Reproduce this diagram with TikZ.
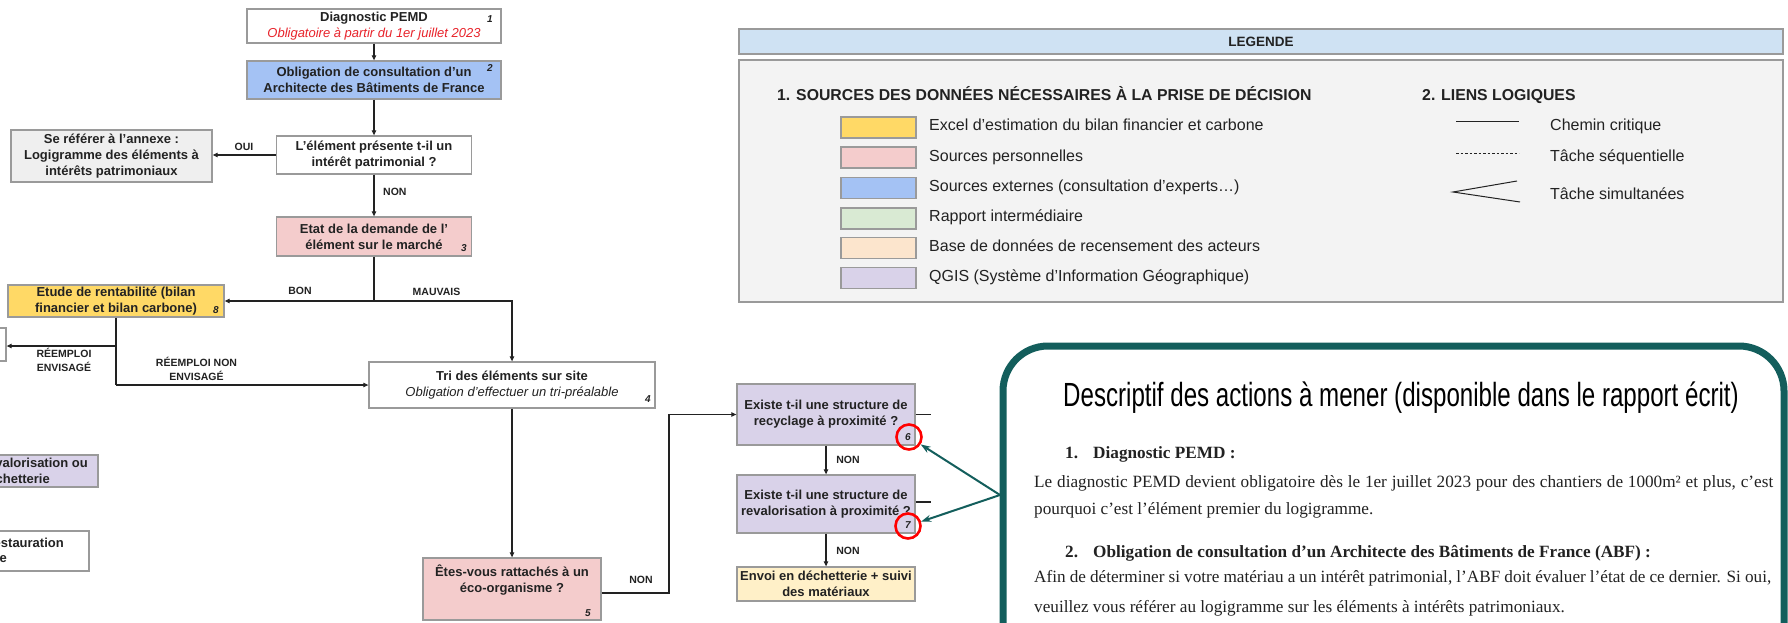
\documentclass[tikz,border=0pt]{standalone}
\usepackage{fontspec}
\setmainfont{Liberation Sans}
\newfontfamily\serf{Liberation Serif}
\newfontfamily\condf[FakeStretch=0.72]{Liberation Sans}
\usetikzlibrary{arrows.meta}
\definecolor{cBlue}{HTML}{A4C2F4}
\definecolor{cPink}{HTML}{F4CCCC}
\definecolor{cYellow}{HTML}{FFD966}
\definecolor{cPurple}{HTML}{D9D2E9}
\definecolor{cGreen}{HTML}{D9EAD3}
\definecolor{cPeach}{HTML}{FCE5CD}
\definecolor{cCream}{HTML}{FFF0C8}
\definecolor{cGrayBox}{HTML}{EFEFEF}
\definecolor{cLegHead}{HTML}{CFE2F3}
\definecolor{cLegBody}{HTML}{F3F3F3}
\definecolor{cBorder}{HTML}{9A9A9A}
\definecolor{cTeal}{HTML}{135E5C}
\definecolor{cRed}{HTML}{E8232B}
\definecolor{cInk}{HTML}{222222}
\tikzset{
  fbox/.style={draw=cBorder, line width=1.3pt, align=center, inner sep=0pt,
    font=\fontsize{13}{16}\selectfont\bfseries, text=cInk},
  ftext/.style={font=\fontsize{13}{16}\selectfont\bfseries, text=cInk, inner sep=0pt},
  num/.style={font=\fontsize{10}{12}\selectfont\bfseries\itshape, inner sep=0pt, text=cInk},
  lab/.style={font=\fontsize{10.5}{14}\selectfont\bfseries, inner sep=0pt, align=center, text=cInk},
  arr/.style={-{Triangle[length=5pt,width=4.5pt]}, line width=1.1pt, draw=cInk},
  ln/.style={line width=1.1pt, draw=cInk},
  swatch/.style={draw=cBorder, line width=1.2pt, minimum width=75pt, minimum height=21pt, inner sep=0pt},
  legtxt/.style={font=\fontsize{16}{19}\selectfont, anchor=base west, inner sep=0pt, text=cInk},
  leghead/.style={font=\fontsize{15.8}{19}\selectfont\bfseries, anchor=base west, inner sep=0pt, text=cInk},
  redring/.style={draw=red, line width=2.6pt, circle, minimum size=25pt, inner sep=0pt},
  tealarr/.style={-{Stealth[length=10pt,width=7pt]}, line width=2pt, draw=cTeal},
  bodytxt/.style={font=\serf\fontsize{17.2}{20}\selectfont, anchor=base west, inner sep=0pt, text=cInk},
  bodyhead/.style={font=\serf\bfseries\fontsize{17.2}{20}\selectfont, anchor=base west, inner sep=0pt, text=cInk},
}
\begin{document}
\begin{tikzpicture}[x=1pt,y=-1pt]
\useasboundingbox (0,0) rectangle (1788,623);
\clip (0,0) rectangle (1788,623);
\fill[white] (0,0) rectangle (1788,623);

% ---------------- flowchart boxes
\node[fbox, minimum width=254pt, minimum height=34pt] (b1) at (374,26)
  {Diagnostic PEMD\\{\mdseries\itshape\color{cRed}Obligatoire à partir du 1er juillet 2023}};
\node[fbox, fill=cBlue, minimum width=254pt, minimum height=38pt] (b2) at (374,80)
  {Obligation de consultation d’un\\Architecte des Bâtiments de France};
\node[fbox, minimum width=195pt, minimum height=38pt] (bq) at (374,155)
  {L’élément présente t-il un\\intérêt patrimonial ?};
\node[fbox, fill=cGrayBox, minimum width=201pt, minimum height=52pt] (ann) at (111.5,156)
  {Se référer à l’annexe :\\Logigramme des éléments à\\intérêts patrimoniaux};
\node[fbox, fill=cPink, minimum width=195pt, minimum height=39pt] (b3) at (374,236.5)
  {Etat de la demande de l’\\élément sur le marché};
\node[fbox, fill=cYellow, minimum width=216pt, minimum height=32pt] (b8) at (116,301)
  {Etude de rentabilité (bilan\\financier et bilan carbone)};
\node[fbox, minimum width=56pt, minimum height=33pt] (bR) at (-22,344.5) {};
\node[fbox, minimum width=286pt, minimum height=46pt] (b4) at (512,385)
  {Tri des éléments sur site\\{\mdseries\itshape Obligation d’effectuer un tri-préalable}};
\node[fbox, fill=cPink, minimum width=178pt, minimum height=62pt] (b5) at (512,589)
  {Êtes-vous rattachés à un\\éco-organisme ?\\[4pt]};
\node[fbox, fill=cPurple, minimum width=178pt, minimum height=61pt] (b6) at (826,414.5)
  {Existe t-il une structure de\\recyclage à proximité ?};
\node[fbox, fill=cPurple, minimum width=178pt, minimum height=58pt] (b7) at (826,504)
  {Existe t-il une structure de\\revalorisation à proximité ?};
\node[fbox, fill=cCream, minimum width=178pt, minimum height=34pt] (b9) at (826,584)
  {Envoi en déchetterie + suivi\\des matériaux};
\node[fbox, fill=cPurple, minimum width=198pt, minimum height=32pt] (bP) at (-1,471) {};
\node[ftext, anchor=east] (bPa) at (88,463) {valorisation ou};
\node[ftext, anchor=east] (bPb) at (50,479) {chetterie};
\node[fbox, minimum width=189pt, minimum height=40pt] (bW) at (-5.5,551) {};
\node[ftext, anchor=east] (bWa) at (64,543) {estauration};
\node[ftext, anchor=east] (bWb) at (7,559) {e};

% numbers
\node[num] (n1) at (490,19) {1};
\node[num] (n2) at (490,68) {2};
\node[num] (n3) at (464,248) {3};
\node[num] (n8) at (216,310) {8};
\node[num] (n4) at (648,399) {4};
\node[num] (n5) at (588,613) {5};
\node[num] (n6) at (908,437) {6};
\node[num] (n7) at (908,525) {7};
\node[redring] (r6) at (909,437) {};
\node[redring] (r7) at (908,526) {};

% ---------------- connectors
\draw[arr] (b1) -- (b2);
\draw[arr] (b2) -- (bq);
\draw[arr] (bq.west) -- (bq.west -| ann.east);
\node[lab] (oui) at (244,147) {OUI};
\draw[arr] (bq) -- (b3);
\node[lab, anchor=west] (non1) at (383,192) {NON};
\coordinate (j3) at (374,301);
\draw[ln] (b3.south) -- (j3);
\draw[arr] (j3) -- (j3 -| b8.east);
\draw[arr] (j3) -| (b4.north);
\node[lab] (bon) at (300,291) {BON};
\node[lab] (mauv) at (436.5,292) {MAUVAIS};
\coordinate (j8a) at (116,346);
\coordinate (j8b) at (116,385);
\draw[ln] (b8.south) -- (j8b);
\draw[arr] (j8b) -- (b4.west);
\draw[arr] (j8a) -- (j8a -| bR.east);
\node[lab] (reen) at (64,360) {RÉEMPLOI\\ENVISAGÉ};
\node[lab] (renon) at (196.5,369) {RÉEMPLOI NON\\ENVISAGÉ};
\draw[arr] (b4) -- (b5);
\coordinate (c5) at (669,593);
\draw[arr] (b5.east |- c5) -- (c5) |- (b6.west);
\node[lab] (non2) at (641,580) {NON};
\draw[arr] (b6) -- (b7);
\node[lab] (non3) at (848,460) {NON};
\draw[arr] (b7) -- (b9);
\node[lab] (non4) at (848,551) {NON};
\draw[ln] (b6.east) -- ++(15,0);
\draw[ln] (b7.east) ++(0,-2) -- ++(15,0);

% ---------------- legend
\node[draw=cBorder, fill=cLegHead, line width=1.2pt, minimum width=1044pt, minimum height=25pt, inner sep=0pt] (lh) at (1261,41.5) {};
\node[font=\fontsize{13.5}{16}\selectfont\bfseries, anchor=base, inner sep=0pt, text=cInk] (lht) at (1261,47) {LEGENDE};
\node[draw=cBorder, fill=cLegBody, line width=1.2pt, minimum width=1044pt, minimum height=242pt, inner sep=0pt] (lb) at (1261,181) {};
\node[leghead] (lg1) at (777,100.5) {1. SOURCES DES DONNÉES NÉCESSAIRES À LA PRISE DE DÉCISION};
\node[leghead] (lg2) at (1422,100.5) {2. LIENS LOGIQUES};
\node[swatch, fill=cYellow] (s1) at (878.5,127.5) {};
\node[swatch, fill=cPink] (s2) at (878.5,157.5) {};
\node[swatch, fill=cBlue] (s3) at (878.5,188) {};
\node[swatch, fill=cGreen] (s4) at (878.5,218.5) {};
\node[swatch, fill=cPeach] (s5) at (878.5,248) {};
\node[swatch, fill=cPurple] (s6) at (878.5,278) {};
\node[legtxt] (l1) at (929,131) {Excel d’estimation du bilan financier et carbone};
\node[legtxt] (l2) at (929,161) {Sources personnelles};
\node[legtxt] (l3) at (929,191) {Sources externes (consultation d’experts…)};
\node[legtxt] (l4) at (929,221.5) {Rapport intermédiaire};
\node[legtxt] (l5) at (929,251.5) {Base de données de recensement des acteurs};
\node[legtxt] (l6) at (929,281.5) {QGIS (Système d’Information Géographique)};
\coordinate (k1a) at (1456,122); \coordinate (k1b) at (1519,122);
\draw[line width=1pt, draw=cInk] (k1a) -- (k1b);
\coordinate (k2a) at (1456,153); \coordinate (k2b) at (1519,153);
\draw[line width=0.8pt, draw=cInk, dash pattern=on 2.5pt off 2pt] (k2a) -- (k2b);
\coordinate (k3a) at (1517,181); \coordinate (k3b) at (1453,192); \coordinate (k3c) at (1520,202);
\draw[line width=1pt, draw=cInk] (k3a) -- (k3b) -- (k3c);
\node[legtxt] (m1) at (1550,131) {Chemin critique};
\node[legtxt] (m2) at (1550,161) {Tâche séquentielle};
\node[legtxt] (m3) at (1550,199) {Tâche simultanées};

% ---------------- description callout
\draw[cTeal, line width=7pt, fill=white, rounded corners=45pt] (1003,346) rectangle (1784,690);
\coordinate (tA) at (1000,495);
\draw[tealarr] (tA) -- (r6);
\draw[tealarr] (tA) -- (r7);
\node[font=\condf\fontsize{33.5}{40}\selectfont, anchor=base, inner sep=0pt, text=black] (title) at (1401,406)
  {Descriptif des actions à mener (disponible dans le rapport écrit)};
\node[bodyhead] (h1n) at (1065,458) {1.};
\node[bodyhead] (h1) at (1093,458) {Diagnostic PEMD :};
\node[bodytxt] (t1) at (1034,487) {\makebox[739pt][s]{Le diagnostic PEMD devient obligatoire dès le 1er juillet 2023 pour des chantiers de 1000m² et plus, c’est}};
\node[bodytxt] (t2) at (1034,514) {pourquoi c’est l’élément premier du logigramme.};
\node[bodyhead] (h2n) at (1065,557) {2.};
\node[bodyhead] (h2) at (1093,557) {Obligation de consultation d’un Architecte des Bâtiments de France (ABF) :};
\node[bodytxt] (t3) at (1034,582) {\makebox[737pt][s]{Afin de déterminer si votre matériau a un intérêt patrimonial, l’ABF doit évaluer l’état de ce dernier. Si oui,}};
\node[bodytxt] (t4) at (1034,612.5) {veuillez vous référer au logigramme sur les éléments à intérêts patrimoniaux.};
\end{tikzpicture}
\end{document}
